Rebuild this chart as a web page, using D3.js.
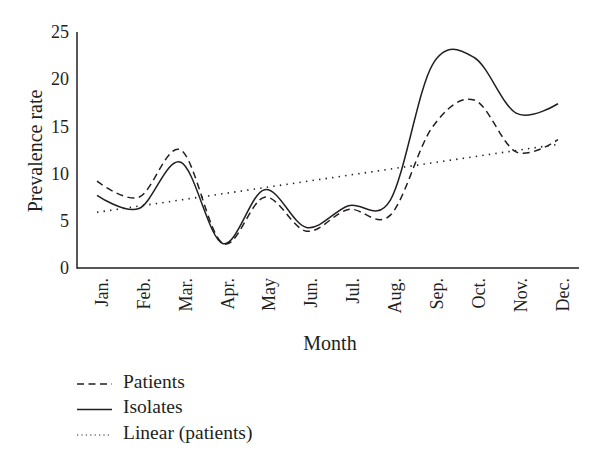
<!DOCTYPE html>
<html>
<head>
<meta charset="utf-8">
<script src="https://cdn.jsdelivr.net/npm/d3@7"></script>
<style>
  html, body { margin: 0; padding: 0; background: #fff; }
  svg { display: block; }
  text { font-family: "Liberation Serif", "Times New Roman", serif; fill: #231f20; }
</style>
</head>
<body>
<svg id="chart" width="600" height="466"></svg>
<script>
// ---- data ----
const months = ["Jan.", "Feb.", "Mar.", "Apr.", "May", "Jun.", "Jul.", "Aug.", "Sep.", "Oct.", "Nov.", "Dec."];
const patients = [9.2, 7.5, 12.5, 2.6, 7.5, 3.9, 6.2, 5.6, 14.9, 17.8, 12.3, 13.6];
const isolates = [7.7, 6.3, 11.2, 2.6, 8.3, 4.3, 6.6, 7.2, 21.5, 22.3, 16.4, 17.4];
const trendEnds = [5.9, 13.1];           // Linear (patients) at Jan. and Dec.
const yTicks = [0, 5, 10, 15, 20, 25];
const legendLabels = ["Patients", "Isolates", "Linear (patients)"];

// ---- layout ----
const svg = d3.select("#chart");
const axisX0 = 77, axisX1 = 579, axisY0 = 268, axisY1 = 32;

const x = d3.scalePoint().domain(months).range([97, 558]);
const y = d3.scaleLinear().domain([0, 25]).range([axisY0, axisY1]);

const ink = "#231f20";

// axes lines
svg.append("line").attr("x1", axisX0).attr("x2", axisX0).attr("y1", axisY1).attr("y2", axisY0 + 0.75)
  .attr("stroke", ink).attr("stroke-width", 1.5);
svg.append("line").attr("x1", axisX0).attr("x2", axisX1).attr("y1", axisY0).attr("y2", axisY0)
  .attr("stroke", ink).attr("stroke-width", 1.5);

// y tick labels
const yAxis = d3.axisLeft(y).tickValues(yTicks).tickSize(0).tickPadding(8);
const gy = svg.append("g").attr("transform", `translate(${axisX0},0)`).call(yAxis);
gy.select(".domain").remove();
gy.selectAll("text").style("font-family", '"Liberation Serif", serif').style("font-size", "18px").attr("fill", ink);

// x tick labels (rotated)
svg.append("g").selectAll("text").data(months).join("text")
  .attr("transform", d => `translate(${x(d) + 4.5},278) rotate(-90)`)
  .attr("text-anchor", "end")
  .attr("dy", "0.35em")
  .style("font-size", "18px")
  .text(d => d);

// axis titles
svg.append("text").attr("x", 330).attr("y", 350).attr("text-anchor", "middle")
  .style("font-size", "20px").text("Month");
svg.append("text").attr("transform", "translate(41.5,151) rotate(-90)").attr("text-anchor", "middle")
  .style("font-size", "20px").text("Prevalence rate");

// series
const line = d3.line().x((d, i) => x(months[i])).y(d => y(d)).curve(d3.curveCardinal.tension(0));

svg.append("path").datum(isolates).attr("d", line)
  .attr("fill", "none").attr("stroke", ink).attr("stroke-width", 1.5);
svg.append("path").datum(patients).attr("d", line)
  .attr("fill", "none").attr("stroke", ink).attr("stroke-width", 1.5).attr("stroke-dasharray", "7,4.5");
svg.append("line")
  .attr("x1", x(months[0])).attr("y1", y(trendEnds[0]))
  .attr("x2", x(months[months.length - 1])).attr("y2", y(trendEnds[1]))
  .attr("stroke", ink).attr("stroke-width", 1.6).attr("stroke-dasharray", "1.4,5.2");

// legend
const legendStyles = [
  { dash: "7,4.5", w: 1.5 },
  { dash: null, w: 1.5 },
  { dash: "1.2,3.2", w: 1.2 }
];
const lg = svg.append("g");
legendLabels.forEach((lab, i) => {
  const ly = 384 + i * 25.5;
  const l = lg.append("line").attr("x1", 77).attr("x2", 112).attr("y1", ly).attr("y2", ly)
    .attr("stroke", ink).attr("stroke-width", legendStyles[i].w);
  if (legendStyles[i].dash) l.attr("stroke-dasharray", legendStyles[i].dash);
  lg.append("text").attr("x", 123).attr("y", ly + 4 + (i === 0 ? 0 : -0.5)).style("font-size", "19.5px").text(lab);
});
</script>
</body>
</html>
